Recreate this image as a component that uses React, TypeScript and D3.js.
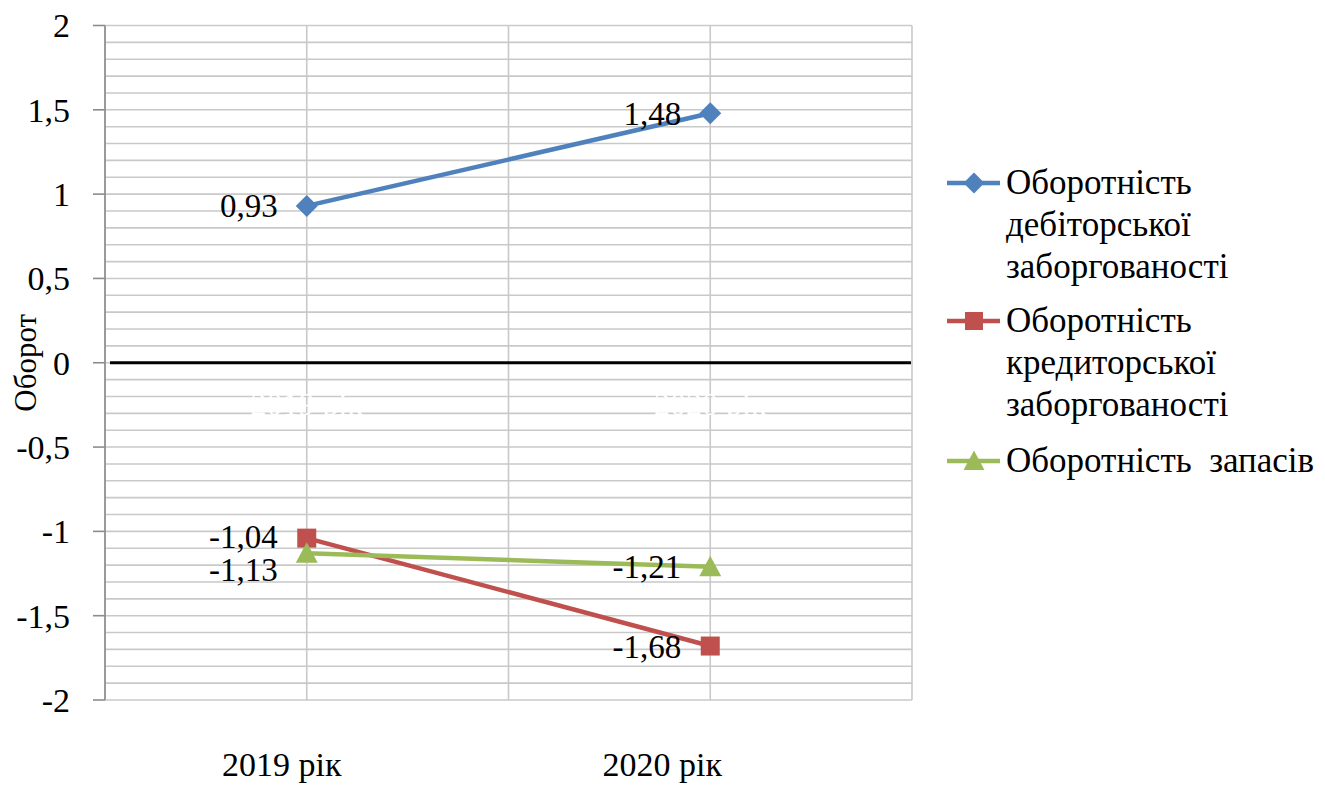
import React from "react";
import * as d3 from "d3";

// Turnover ratios by year
const categories = ["2019 рік", "2020 рік"];
const receivablesTurnover = [0.93, 1.48];
const payablesTurnover = [-1.04, -1.68];
const inventoryTurnover = [-1.13, -1.21];

const seriesNames = [
  ["Оборотність", "дебіторської", "заборгованості"],
  ["Оборотність", "кредиторської", "заборгованості"],
  ["Оборотність  запасів"],
];
const seriesColors = ["#4F81BD", "#C0504D", "#9BBB59"];
const seriesMarkers = ["diamond", "square", "triangle"];

const yTicks = [-2, -1.5, -1, -0.5, 0, 0.5, 1, 1.5, 2];
const yTitle = "Оборот";

const W = 1325;
const H = 785;
const FONT = "Times New Roman, Times, Liberation Serif, Tinos, Noto Serif, DejaVu Serif, serif";

const fmt = (v: number) => String(v).replace(".", ",");

export default function App() {
  const x = d3.scaleBand<string>().domain(categories).range([105, 912]).padding(0);
  const cx = (c: string) => (x(c) as number) + x.bandwidth() / 2;
  const y = d3.scaleLinear().domain([-2, 2]).range([700, 25.5]);

  const series = [receivablesTurnover, payablesTurnover, inventoryTurnover];
  // vertical nudges for data labels that would otherwise collide
  const labelDy = [
    [0, 0],
    [-2, 0],
    [16, 0],
  ];
  // bottom category label horizontal shifts
  const catShift = [-25, -48];

  const minorTicks = d3.range(-20, 21).map((i) => i / 10);
  const vLines: number[] = [];
  categories.forEach((c) => {
    vLines.push(x(c) as number);
    vLines.push(cx(c));
  });
  vLines.push(912);

  const line = d3
    .line<number>()
    .x((_, i) => cx(categories[i]))
    .y((d) => y(d));

  const marker = (kind: string, px: number, py: number, color: string, s = 1) => {
    if (kind === "diamond") {
      const r = 11 * s;
      return <path d={`M${px},${py - r}L${px + r},${py}L${px},${py + r}L${px - r},${py}Z`} fill={color} />;
    }
    if (kind === "square") {
      const r = 9.5 * s;
      return <rect x={px - r} y={py - r} width={2 * r} height={2 * r} fill={color} />;
    }
    const r = 11 * s;
    return <path d={`M${px},${py - r}L${px + r},${py + r * 0.85}L${px - r},${py + r * 0.85}Z`} fill={color} />;
  };

  const legendY = [183, 321, 461];

  return (
    <svg
      width={W}
      height={H}
      fontFamily={FONT}
      style={{ position: "absolute", left: 0, top: 0, background: "#fff" }}
    >
      {/* horizontal gridlines */}
      {minorTicks.map((t) => (
        <line key={"h" + t} x1={105} x2={912} y1={y(t)} y2={y(t)} stroke="#C9C9C9" strokeWidth={1.6} />
      ))}
      {/* vertical gridlines */}
      {vLines.map((vx, i) => (
        <line key={"v" + i} x1={vx} x2={vx} y1={y(2)} y2={y(-2)} stroke="#C9C9C9" strokeWidth={1.6} />
      ))}
      {/* value axis */}
      <line x1={105} x2={105} y1={y(2)} y2={y(-2)} stroke="#8C8C8C" strokeWidth={1.6} />
      {yTicks.map((t) => (
        <g key={"t" + t}>
          <line x1={93} x2={105} y1={y(t)} y2={y(t)} stroke="#8C8C8C" strokeWidth={1.6} />
          <text x={70} y={y(t)} dy="0.35em" textAnchor="end" fontSize={34} fill="#000">
            {fmt(t)}
          </text>
        </g>
      ))}
      {/* category axis labels at the zero line, drawn white */}
      {categories.map((c) => (
        <text key={"w" + c} x={cx(c)} y={y(0) + 52} textAnchor="middle" fontSize={32} fill="#FFFFFF">
          {c}
        </text>
      ))}
      {/* zero line */}
      <line x1={110} x2={911} y1={y(0)} y2={y(0)} stroke="#000" strokeWidth={3} />

      {/* series */}
      {series.map((vals, si) => (
        <g key={"s" + si}>
          <path d={line(vals) as string} fill="none" stroke={seriesColors[si]} strokeWidth={4.5} />
          {vals.map((v, i) => (
            <g key={i}>{marker(seriesMarkers[si], cx(categories[i]), y(v), seriesColors[si])}</g>
          ))}
        </g>
      ))}
      {/* data labels */}
      {series.map((vals, si) =>
        vals.map((v, i) => (
          <text
            key={"l" + si + i}
            x={cx(categories[i]) - 29}
            y={y(v) + labelDy[si][i]}
            dy="0.35em"
            textAnchor="end"
            fontSize={33}
            fill="#000"
          >
            {fmt(v)}
          </text>
        ))
      )}

      {/* bottom category labels */}
      {categories.map((c, i) => (
        <text key={"c" + c} x={cx(c) + catShift[i]} y={776} textAnchor="middle" fontSize={34} fill="#000">
          {c}
        </text>
      ))}

      {/* value axis title */}
      <text
        transform={`translate(36, ${y(0)}) rotate(-90)`}
        textAnchor="middle"
        fontSize={31}
        fill="#000"
      >
        {yTitle}
      </text>

      {/* legend */}
      {seriesNames.map((lines, si) => (
        <g key={"lg" + si}>
          <line x1={947} x2={1000} y1={legendY[si]} y2={legendY[si]} stroke={seriesColors[si]} strokeWidth={4.5} />
          {marker(seriesMarkers[si], 974, legendY[si], seriesColors[si], 0.95)}
          {lines.map((ln, li) => (
            <text
              key={li}
              x={1006}
              y={legendY[si] + 11 + li * 42}
              fontSize={35}
              fill="#000"
              style={{ whiteSpace: "pre" }}
            >
              {ln}
            </text>
          ))}
        </g>
      ))}
    </svg>
  );
}
